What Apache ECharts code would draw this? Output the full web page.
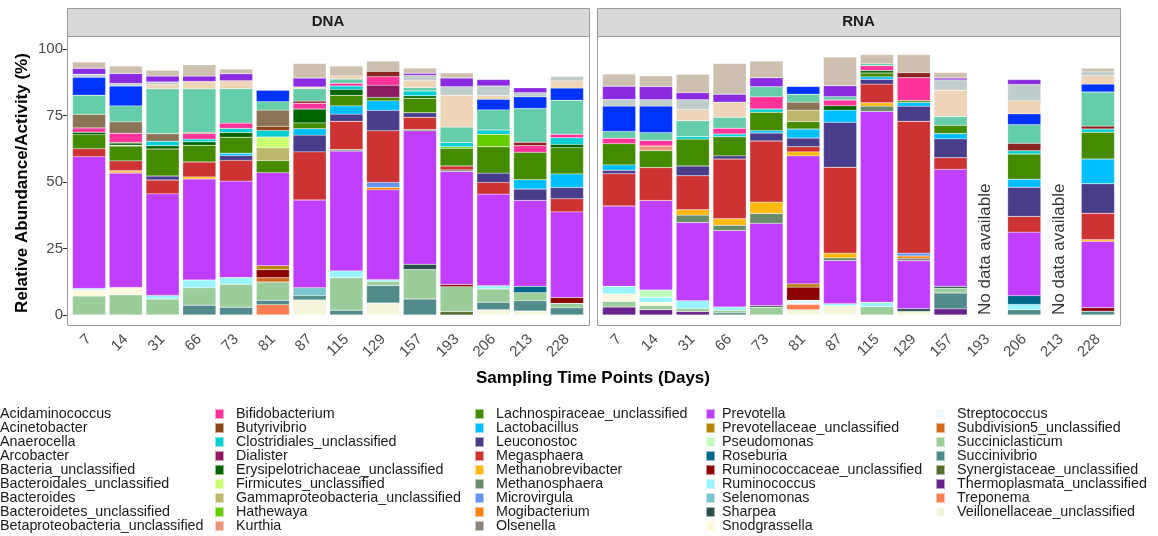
<!DOCTYPE html>
<html><head><meta charset="utf-8">
<script src="https://cdn.jsdelivr.net/npm/echarts@6/dist/echarts.min.js"></script>
<style>html,body{margin:0;padding:0;background:#fff}#c{width:1158px;height:536px}</style>
</head><body><div id="c"></div>
<script>
// ---------- data ----------
const days = ['7','14','31','66','73','81','87','115','129','157','193','206','213','228'];
const panelNames = ['DNA','RNA'];
const noDataDays = ['193','213'];
const yTicks = [0,25,50,75,100];
const genera = ['Acidaminococcus','Acinetobacter','Anaerocella','Arcobacter','Bacteria_unclassified','Bacteroidales_unclassified','Bacteroides','Bacteroidetes_unclassified','Betaproteobacteria_unclassified',
'Bifidobacterium','Butyrivibrio','Clostridiales_unclassified','Dialister','Erysipelotrichaceae_unclassified','Firmicutes_unclassified','Gammaproteobacteria_unclassified','Hathewaya','Kurthia',
'Lachnospiraceae_unclassified','Lactobacillus','Leuconostoc','Megasphaera','Methanobrevibacter','Methanosphaera','Microvirgula','Mogibacterium','Olsenella',
'Prevotella','Prevotellaceae_unclassified','Pseudomonas','Roseburia','Ruminococcaceae_unclassified','Ruminococcus','Selenomonas','Sharpea','Snodgrassella',
'Streptococcus','Subdivision5_unclassified','Succiniclasticum','Succinivibrio','Synergistaceae_unclassified','Thermoplasmata_unclassified','Treponema','Veillonellaceae_unclassified'];
const colors = ['#CDC0B0','#8A2BE2','#C1CDCD','#EED5B7','#0033FF','#66CDAA','#8B2323','#8B7355','#8B4726',
'#FF3399','#8B4513','#00CED1','#8B1C62','#006400','#CAFF70','#BDB76B','#66CD00','#E9967A',
'#458B00','#00BFFF','#483D8B','#CD3333','#FFB90F','#698B69','#6495ED','#FF7F00','#8B8378',
'#BF3EFF','#B8860B','#C1FFC1','#00688B','#8B0000','#98F5FF','#7AC5CD','#2F4F4F','#FFF8DC',
'#F0F8FF','#D2691E','#9BCD9B','#528B8B','#556B2F','#68228B','#FF7F50','#F5F5DC'];

// DNA values (%) per genus, one entry per sampling day
const dna_Acidaminococcus = [2.4,2.8,2.2,4.3,1.8,0,5.4,3.7,3.9,1.9,1.9,0,0,0];
const dna_Acinetobacter = [2.2,3.8,2.2,2.0,2.6,0,3.4,0,0,0.8,3.3,2.4,1.8,0];
const dna_Anaerocella = [1.1,0.9,1.0,0,0,0,0,0,0,2.0,3.2,3.6,1.6,1.7];
const dna_Arcobacter = [0,0,1.6,2.8,3.0,0,0.6,1.2,0,2.6,12.0,1.4,0,2.7];
const dna_Bacteria_unclassified = [6.8,7.5,0,0,0,4.3,0,0,0,0,0,4.0,4.4,4.6];
const dna_Bacteroidales_unclassified = [7.2,6.0,16.9,16.3,13.0,3.2,4.7,1.6,0,1.3,5.8,7.6,12.7,12.8];
const dna_Bacteroides = [0,0,0,0,0,0,0.8,0,2.0,0,0,0,1.3,0];
const dna_Bacteroidetes_unclassified = [5.1,4.3,2.8,0.6,0,6.1,0,0,0,0,0,0,0,0];
const dna_Betaproteobacteria_unclassified = [0,0,0,0,0,0,0,0,0,0,0,0,0,0];
const dna_Bifidobacterium = [1.6,3.4,0,2.0,2.0,0,2.2,1.0,3.2,0,0,0,2.5,1.3];
const dna_Butyrivibrio = [0,0.3,0,0,0,1.5,0,0,0,0,0,0,0,0];
const dna_Clostridiales_unclassified = [0,0,1.7,1.0,1.5,2.5,0,1.3,0,1.8,1.6,1.6,0,2.5];
const dna_Dialister = [0,0,0,0,0,0,0,0,4.6,0,0,0,0,0];
const dna_Erysipelotrichaceae_unclassified = [0.9,0.8,1.2,1.3,1.8,0,5.2,2.2,0,0.9,0,0,0,1.2];
const dna_Firmicutes_unclassified = [0,0,0,0,0,4.1,0,0,0,0,0,0,0,0];
const dna_Gammaproteobacteria_unclassified = [0,0.3,0,0,0,4.8,0,0,0,0,0,0,0,0];
const dna_Hathewaya = [0,0,0,0,0,0,0,0,0,0,0.6,4.7,0,0];
const dna_Kurthia = [0,0,0,0,0,0,0,0,0,0,0,0,0,0];
const dna_Lachnospiraceae_unclassified = [5.3,5.6,10.2,6.3,6.0,4.5,2.2,4.0,1.3,5.5,6.6,9.9,10.3,9.9];
const dna_Lactobacillus = [0,0,0,0,0.9,0,2.4,3.1,3.6,0,0,0,3.5,5.1];
const dna_Leuconostoc = [0,0,1.5,0,1.8,0,6.3,2.7,7.6,1.7,0,3.5,4.3,4.2];
const dna_Megasphaera = [3.0,3.7,5.2,5.6,7.8,0,18.1,10.6,19.5,4.6,1.5,4.4,0,5.0];
const dna_Methanobrevibacter = [0,0.5,0,0.8,0,0,0,0,0,0,0,0,0,0];
const dna_Methanosphaera = [0,0,0,0,0,0,0,0.6,0,0.5,0.6,0,0,0];
const dna_Microvirgula = [0,0,0,0,0,0,0,0,1.9,0,0,0,0,0];
const dna_Mogibacterium = [0,0.4,0,0,0,0,0,0,0.9,0,0,0,0,0];
const dna_Olsenella = [0,0,0,0,0,0,0,0,0,0,0,0,0,0];
const dna_Prevotella = [49.6,43.0,38.2,38.0,36.3,35.0,33.0,45.1,33.8,50.2,42.5,34.5,32.3,32.2];
const dna_Prevotellaceae_unclassified = [0,0,0,0,0,1.5,0,0,0,0,0,0,0,0];
const dna_Pseudomonas = [0,0,0,0,0,0,0,0,0,0,0,0,0,0];
const dna_Roseburia = [0,0,0,0,0,0,0,0,0,0,0,0,2.4,0];
const dna_Ruminococcaceae_unclassified = [0,0,0,0,0,3.1,0,0,0,0,0.8,0,0,2.2];
const dna_Ruminococcus = [0.6,0,1.4,2.9,2.5,0,0,2.6,0.6,0,0,1.2,0,0];
const dna_Selenomonas = [0,0,0,0,0,0,3.0,0,0,0,0,0,0,0];
const dna_Sharpea = [0,0,0,0,0,0,0,0,0,2.0,0,0,0,0];
const dna_Snodgrassella = [2.3,2.8,0,0,0,0,0,0,0,0,0,0,0,0];
const dna_Streptococcus = [0,0,0,0,0,0,0,0,0,0,0,0,0,0];
const dna_Subdivision5_unclassified = [0,0,0,0,0,1.6,0,0,0,0,0,0,0,0];
const dna_Succiniclasticum = [7.1,7.6,6.0,6.6,8.7,6.9,0,12.2,1.6,11.1,9.4,5.0,3.0,1.7];
const dna_Succinivibrio = [0,0,0,3.7,2.9,1.6,1.6,1.8,6.6,6.0,0,2.8,3.9,2.7];
const dna_Synergistaceae_unclassified = [0,0,0,0,0,0,0,0,0,0,1.3,0,0,0];
const dna_Thermoplasmata_unclassified = [0,0,0,0,0,0,0,0,0,0,0,0,0,0];
const dna_Treponema = [0,0,0,0,0,3.9,0,0,0,0,0,0,0,0];
const dna_Veillonellaceae_unclassified = [0,0,0,0,0,0,5.7,0,4.5,0,0,2.0,1.5,0];

// RNA values (%) per genus; null = no data available
const rna_Acidaminococcus = [4.6,4.0,6.9,11.5,6.3,0,10.8,3.4,6.8,2.0,null,0,null,1.3];
const rna_Acinetobacter = [5.0,5.0,2.7,3.0,3.4,0,4.1,0,0,0.7,null,1.8,null,0];
const rna_Anaerocella = [2.5,2.4,3.6,0,0,0,0,0,0,3.9,null,6.2,null,1.4];
const rna_Arcobacter = [0,0,4.3,5.7,0,0,0,0,0,9.9,null,4.9,null,3.2];
const rna_Bacteria_unclassified = [9.5,10.0,0,0,0,2.9,0,0,0,0,null,4.1,null,3.0];
const rna_Bacteroidales_unclassified = [2.6,2.9,5.9,4.1,3.8,3.0,1.3,0.8,0,3.3,null,7.0,null,12.8];
const rna_Bacteroides = [0,0,0,0,0,0,0,0,1.9,0,null,2.8,null,1.1];
const rna_Bacteroidetes_unclassified = [0,0,0,0,0,3.0,0,0,0,0,null,0,null,0];
const rna_Betaproteobacteria_unclassified = [0,0,0,0,0,0,0,0,0,0,null,0,null,0];
const rna_Bifidobacterium = [2.0,2.1,0,2.2,4.6,0,2.1,1.8,8.6,0,null,0,null,0];
const rna_Butyrivibrio = [0,0,0,0,0,0,0,0,0,0,null,0,null,0];
const rna_Clostridiales_unclassified = [0,0,1.0,1.0,1.2,0,0,0,0,0,null,1.2,null,1.2];
const rna_Dialister = [0,0,0,0,0,0,0,0,0,0,null,0,null,0];
const rna_Erysipelotrichaceae_unclassified = [0,0,0,0,0,0,1.7,0.9,0,0,null,0,null,0];
const rna_Firmicutes_unclassified = [0,0,0,0,0,0,0,0,0,0,null,0,null,0];
const rna_Gammaproteobacteria_unclassified = [0,0,0,0,0,4.3,0,0,0,0,null,0,null,0];
const rna_Hathewaya = [0,0,0,0,0,0,0,0,0,0,null,0,null,0];
const rna_Kurthia = [0,1.7,0,0,0,0,0,0,0,0,null,0,null,0];
const rna_Lachnospiraceae_unclassified = [8.0,6.4,10.1,7.2,6.9,2.8,0,1.5,0.7,3.1,null,9.5,null,10.1];
const rna_Lactobacillus = [2.0,0,0,0,0.9,3.4,4.6,0.9,1.4,2.0,null,3.0,null,9.3];
const rna_Leuconostoc = [1.3,0,3.7,1.2,3.0,3.3,16.9,1.8,5.7,7.1,null,11.0,null,11.1];
const rna_Megasphaera = [12.2,12.4,12.8,22.5,23.0,1.9,32.3,7.0,49.6,4.4,null,5.9,null,10.0];
const rna_Methanobrevibacter = [0,0,2.0,2.4,4.3,1.5,1.8,1.3,0,0,null,0,null,0.6];
const rna_Methanosphaera = [0,0,2.8,2.0,3.7,0,1.0,2.0,0,0,null,0,null,0];
const rna_Microvirgula = [0,0,0,0,0,0,0,0,1.1,0,null,0,null,0];
const rna_Mogibacterium = [0,0,0,0,0,0,0,0,0.8,0,null,0,null,0];
const rna_Olsenella = [0,0,0,0,0,0,0,0,1.0,0,null,0,null,0];
const rna_Prevotella = [30.2,33.7,29.4,28.8,31.0,48.2,16.2,71.8,18.0,44.0,null,23.9,null,24.9];
const rna_Prevotellaceae_unclassified = [0,0,0,0,0,1.2,0,0,0,0,null,0,null,0];
const rna_Pseudomonas = [0,2.7,0,0,0,0,0,0,0,0,null,0,null,0];
const rna_Roseburia = [0,0,0,0,0,0,0,0,0,0,null,3.3,null,0];
const rna_Ruminococcaceae_unclassified = [0,0,0,0,0,4.9,0,0,0,0,null,0,null,1.4];
const rna_Ruminococcus = [2.9,1.9,2.9,1.2,0,0,0.8,1.7,0,0,null,2.0,null,0];
const rna_Selenomonas = [0,0,0,0,0,0,0,0,0,0,null,0,null,0];
const rna_Sharpea = [0,0,0,0,0.6,0,0,0,1.1,0.7,null,0,null,0];
const rna_Snodgrassella = [2.8,1.2,0,0,0,0,0,0,0,0,null,0,null,0];
const rna_Streptococcus = [0,0,0,0,0,1.6,0,0,0,0,null,0,null,0];
const rna_Subdivision5_unclassified = [0,0,0,0,0,0,0,0,0,0,null,0,null,0];
const rna_Succiniclasticum = [2.1,1.6,1.2,1.0,2.9,0,0,3.1,0,1.8,null,0,null,0];
const rna_Succinivibrio = [0,0,0,0.8,0,0,0,0,0,6.0,null,2.0,null,1.4];
const rna_Synergistaceae_unclassified = [0,0,0,0,0,0,0,0,0,0,null,0,null,0];
const rna_Thermoplasmata_unclassified = [3.0,2.0,1.3,0,0,0,0,0,0,2.3,null,0,null,0];
const rna_Treponema = [0,0,0,0,0,2.0,0,0,0,0,null,0,null,0];
const rna_Veillonellaceae_unclassified = [0,0,0,0,0,2.0,3.5,0,1.3,0,null,0,null,0];

const dnaTable = [dna_Acidaminococcus,dna_Acinetobacter,dna_Anaerocella,dna_Arcobacter,dna_Bacteria_unclassified,dna_Bacteroidales_unclassified,dna_Bacteroides,dna_Bacteroidetes_unclassified,dna_Betaproteobacteria_unclassified,
dna_Bifidobacterium,dna_Butyrivibrio,dna_Clostridiales_unclassified,dna_Dialister,dna_Erysipelotrichaceae_unclassified,dna_Firmicutes_unclassified,dna_Gammaproteobacteria_unclassified,dna_Hathewaya,dna_Kurthia,
dna_Lachnospiraceae_unclassified,dna_Lactobacillus,dna_Leuconostoc,dna_Megasphaera,dna_Methanobrevibacter,dna_Methanosphaera,dna_Microvirgula,dna_Mogibacterium,dna_Olsenella,
dna_Prevotella,dna_Prevotellaceae_unclassified,dna_Pseudomonas,dna_Roseburia,dna_Ruminococcaceae_unclassified,dna_Ruminococcus,dna_Selenomonas,dna_Sharpea,dna_Snodgrassella,
dna_Streptococcus,dna_Subdivision5_unclassified,dna_Succiniclasticum,dna_Succinivibrio,dna_Synergistaceae_unclassified,dna_Thermoplasmata_unclassified,dna_Treponema,dna_Veillonellaceae_unclassified];
const rnaTable = [rna_Acidaminococcus,rna_Acinetobacter,rna_Anaerocella,rna_Arcobacter,rna_Bacteria_unclassified,rna_Bacteroidales_unclassified,rna_Bacteroides,rna_Bacteroidetes_unclassified,rna_Betaproteobacteria_unclassified,
rna_Bifidobacterium,rna_Butyrivibrio,rna_Clostridiales_unclassified,rna_Dialister,rna_Erysipelotrichaceae_unclassified,rna_Firmicutes_unclassified,rna_Gammaproteobacteria_unclassified,rna_Hathewaya,rna_Kurthia,
rna_Lachnospiraceae_unclassified,rna_Lactobacillus,rna_Leuconostoc,rna_Megasphaera,rna_Methanobrevibacter,rna_Methanosphaera,rna_Microvirgula,rna_Mogibacterium,rna_Olsenella,
rna_Prevotella,rna_Prevotellaceae_unclassified,rna_Pseudomonas,rna_Roseburia,rna_Ruminococcaceae_unclassified,rna_Ruminococcus,rna_Selenomonas,rna_Sharpea,rna_Snodgrassella,
rna_Streptococcus,rna_Subdivision5_unclassified,rna_Succiniclasticum,rna_Succinivibrio,rna_Synergistaceae_unclassified,rna_Thermoplasmata_unclassified,rna_Treponema,rna_Veillonellaceae_unclassified];

// ---------- layout ----------
const FONT = '"Liberation Sans", Arial, Helvetica, sans-serif';
const panels = [{l:67, r:589},{l:597, r:1120}];
const pTop = 36, pBot = 325;
const yMin = -3.76, yMax = 105.0;
const expand = 0.6, n = days.length;

const grids = [], xAxes = [], yAxes = [], series = [], graphics = [];
panels.forEach((p, i) => {
  const unit = (p.r - p.l) / (n - 1 + 2 * expand);
  const inset = (expand - 0.5) * unit;
  grids.push({left: p.l + inset, width: (p.r - p.l) - 2 * inset, top: pTop, height: pBot - pTop, containLabel: false});
  xAxes.push({gridIndex: i, type: 'category', data: days,
    axisLine: {show: false, onZero: false},
    axisTick: {alignWithLabel: true, length: 4, lineStyle: {color: '#333', width: 1}},
    axisLabel: {interval: 0, rotate: 45, color: '#4D4D4D', fontSize: 15, fontFamily: FONT, margin: 12}});
  yAxes.push({gridIndex: i, type: 'value', min: yMin, max: yMax, offset: inset,
    axisLine: {show: false}, splitLine: {show: false},
    axisTick: {show: i === 0, customValues: yTicks, length: 4, lineStyle: {color: '#333', width: 1}},
    axisLabel: {show: i === 0, customValues: yTicks, color: '#4D4D4D', fontSize: 15, fontFamily: FONT, margin: 4}});
  graphics.push({type: 'rect', z: 100, shape: {x: p.l + 0.5, y: 8.5, width: p.r - p.l, height: pTop - 8}, style: {fill: '#D9D9D9', stroke: '#9A9A9A', lineWidth: 1}});
  graphics.push({type: 'text', z: 101, x: (p.l + p.r) / 2, y: 22, style: {text: panelNames[i], font: 'bold 15px ' + FONT, fill: '#1A1A1A', align: 'center', verticalAlign: 'middle', textAlign: 'center', textVerticalAlign: 'middle'}});
  graphics.push({type: 'rect', z: 100, shape: {x: p.l + 0.5, y: pTop + 0.5, width: p.r - p.l, height: pBot - pTop}, style: {fill: 'none', stroke: '#9A9A9A', lineWidth: 1}});
});

for (let g = genera.length - 1; g >= 0; g--) {
  [dnaTable, rnaTable].forEach((tbl, i) => {
    series.push({
      name: genera[g], type: 'bar', xAxisIndex: i, yAxisIndex: i, stack: 'p' + i,
      barCategoryGap: '10%',
      itemStyle: {color: colors[g], borderColor: 'rgba(255,255,255,0.55)', borderWidth: 0.4},
      data: tbl[g].map(v => (v === null || v === 0) ? '-' : v)
    });
  });
}
series.push({
  type: 'scatter', xAxisIndex: 1, yAxisIndex: 1, silent: true, symbolSize: 0.1,
  itemStyle: {color: 'rgba(0,0,0,0)'},
  label: {show: true, formatter: 'No data available', rotate: 90, position: [0, 0], align: 'left', verticalAlign: 'middle',
    color: '#000', fontSize: 17, fontFamily: FONT, offset: [0, -2]},
  data: noDataDays.map(d => [d, 0])
});

graphics.push({type: 'text', x: 22, y: 183, rotation: Math.PI / 2, style: {text: 'Relative Abundance/Activity (%)', font: 'bold 17px ' + FONT, fill: '#000', align: 'center', verticalAlign: 'middle', textAlign: 'center', textVerticalAlign: 'middle'}});
graphics.push({type: 'text', x: 593, y: 378, style: {text: 'Sampling Time Points (Days)', font: 'bold 17px ' + FONT, fill: '#000', align: 'center', verticalAlign: 'middle', textAlign: 'center', textVerticalAlign: 'middle'}});

const legendCols = [genera.slice(0, 9), genera.slice(9, 18), genera.slice(18, 27), genera.slice(27, 36), genera.slice(36)];
const legendLeft = [-22, 214, 474, 705, 935];
const legendPad = [7, 7, 7, 2, 7];
const legends = legendCols.map((names, i) => ({
  data: names, orient: 'vertical', left: legendLeft[i], top: 407, padding: 0, height: 200, width: 260,
  itemWidth: 9, itemHeight: 10, itemGap: 0, icon: 'rect', selectedMode: false,
  textStyle: {fontSize: 14.3, lineHeight: 14, fontFamily: FONT, color: '#1A1A1A', padding: [0, 0, 0, legendPad[i]]}
}));

const chart = echarts.init(document.getElementById('c'), null, {renderer: 'canvas'});
chart.setOption({
  animation: false, backgroundColor: '#fff',
  grid: grids, xAxis: xAxes, yAxis: yAxes, series: series, legend: legends, graphic: graphics
});
</script></body></html>
